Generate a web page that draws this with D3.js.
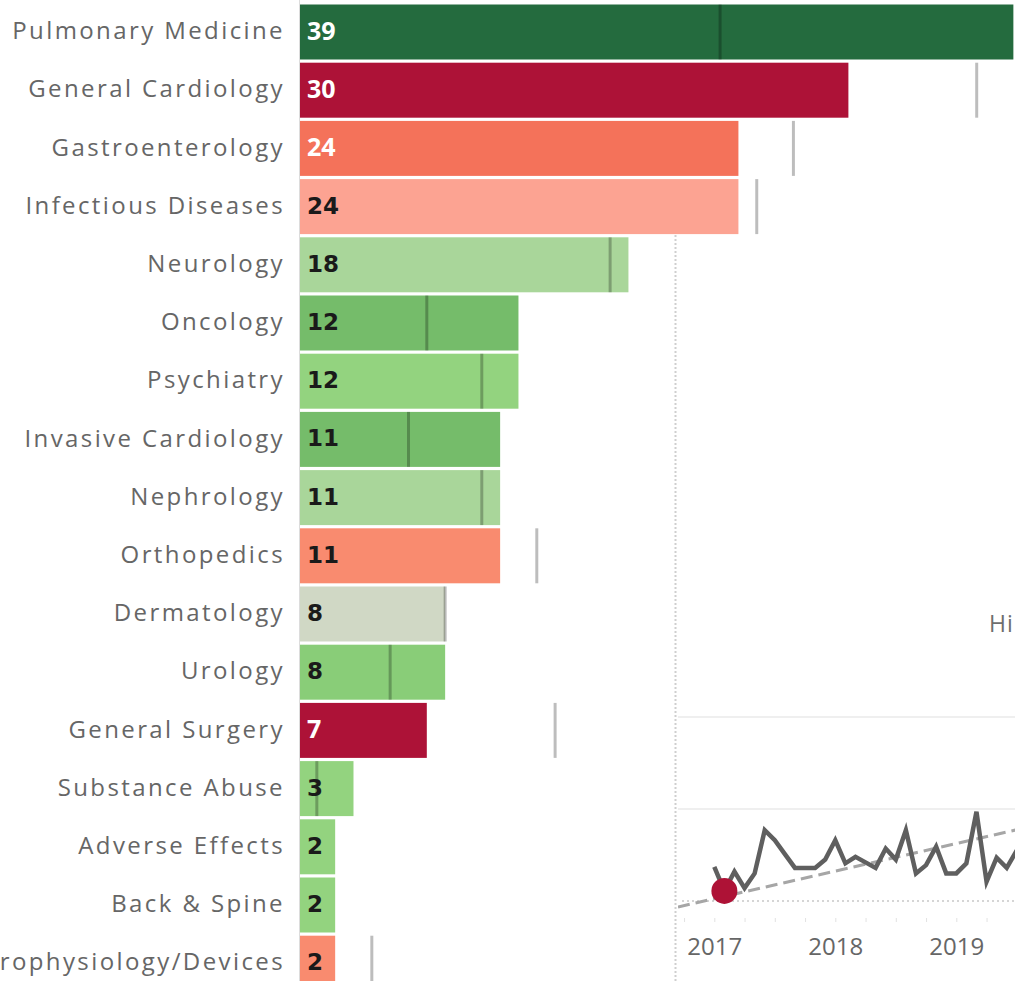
<!DOCTYPE html>
<html>
<head>
<meta charset="utf-8">
<script src="https://cdn.jsdelivr.net/npm/d3@7"></script>
<style>
  html, body { margin: 0; padding: 0; background: #fff; overflow: hidden; }
  svg { display: block; }
</style>
</head>
<body>
<svg id="chart" width="1015" height="981"></svg>
<script>
// ---------- data ----------
const categories = ["Pulmonary Medicine","General Cardiology","Gastroenterology","Infectious Diseases","Neurology","Oncology","Psychiatry","Invasive Cardiology","Nephrology","Orthopedics","Dermatology","Urology","General Surgery","Substance Abuse","Adverse Effects","Back & Spine","Electrophysiology/Devices"];
const currentValues = [39,30,24,24,18,12,12,11,11,11,8,8,7,3,2,2,2];
const priorValues = [23,37,27,25,17,7,10,6,10,13,8,5,14,1,null,null,4];
const barColors = ["#246b3e","#ad1237","#f4725a","#fca392","#a9d69a","#75bc6a","#93d37f","#75bc6a","#a9d69a","#f98b6f","#d0d8c5","#89cd78","#ad1237","#93d37f","#93d37f","#93d37f","#f98b6f"];
const labelColors = ["#ffffff","#ffffff","#ffffff","#1a1a1a","#1a1a1a","#1a1a1a","#1a1a1a","#1a1a1a","#1a1a1a","#1a1a1a","#1a1a1a","#1a1a1a","#ffffff","#1a1a1a","#1a1a1a","#1a1a1a","#1a1a1a"];

// monthly series starting Jan 2017
const monthIndex = [0,1,2,3,4,5,6,7,8,9,10,11,12,13,14,15,16,17,18,19,20,21,22,23,24,25,26,27,28,29,30];
const monthlyValues = [3.7,1.1,3.2,1.4,3.0,7.7,6.6,5.1,3.6,3.6,3.6,4.5,6.6,4.1,4.8,4.2,3.6,5.7,4.5,7.7,3.0,3.9,5.9,3.0,3.0,4.1,9.7,2.1,4.7,3.6,5.5];
const highlightMonth = 1;
const trendMonths = [-3.6, 30];
const trendValues = [-0.65, 7.75];
const yearTicks = [2017, 2018, 2019];
const gridValues = [10, 20];
const sideText = "Hi";

// ---------- layout ----------
const svg = d3.select("#chart");
const W = 1015, H = 981;

const y = d3.scaleBand().domain(categories).range([2.9, 992.3]).paddingInner(0.055).paddingOuter(0.0275);
const x = d3.scaleLinear().domain([0, 40]).range([298.5, 298.5 + 40 * 18.33]);
const x0 = 300;

const rows = categories.map((c, i) => ({c, v: currentValues[i], p: priorValues[i], col: barColors[i], lc: labelColors[i]}));

// axis line
svg.append("line").attr("x1", 299.5).attr("x2", 299.5).attr("y1", 0).attr("y2", H)
  .attr("stroke", "#dcdcdc").attr("stroke-width", 1);

// bars
svg.append("g").selectAll("rect").data(rows).join("rect")
  .attr("x", x0).attr("y", d => y(d.c))
  .attr("width", d => x(d.v) - x0).attr("height", y.bandwidth())
  .attr("fill", d => d.col);

// reference lines (prior period)
svg.append("g").selectAll("line").data(rows.filter(d => d.p != null)).join("line")
  .attr("x1", d => x(d.p)).attr("x2", d => x(d.p))
  .attr("y1", d => y(d.c)).attr("y2", d => y(d.c) + y.bandwidth())
  .attr("stroke", "rgba(0,0,0,0.26)").attr("stroke-width", 3);

// value labels
svg.append("g").selectAll("text").data(rows).join("text")
  .attr("x", 307).attr("y", d => y(d.c) + y.bandwidth() / 2)
  .attr("dy", "0.3em")
  .attr("fill", d => d.lc)
  .attr("font-family", d => d.lc === "#ffffff" ? "'Liberation Sans Narrow','Open Sans',sans-serif" : "'DejaVu Sans',sans-serif")
  .attr("font-weight", "bold")
  .attr("font-size", d => d.lc === "#ffffff" ? "25px" : "23px")
  .text(d => d.v);

// category labels
svg.append("g").selectAll("text").data(rows).join("text")
  .attr("x", 285).attr("y", d => y(d.c) + y.bandwidth() / 2)
  .attr("dy", "0.3em").attr("text-anchor", "end")
  .attr("fill", "#666666")
  .attr("font-family", "'Open Sans',sans-serif")
  .attr("font-size", "24px")
  .attr("letter-spacing", "2.4px")
  .text(d => d.c);

// ---------- right panel ----------
svg.append("line").attr("x1", 675.5).attr("x2", 675.5).attr("y1", 235).attr("y2", H)
  .attr("stroke", "#cfcfcf").attr("stroke-width", 2).attr("stroke-dasharray", "2,2");

svg.append("text").attr("x", 989).attr("y", 624).attr("dy", "0.36em")
  .attr("fill", "#6e6e6e").attr("font-family", "'Open Sans',sans-serif").attr("font-size", "23px")
  .attr("letter-spacing", "1px")
  .text(sideText);

// line chart
const t0 = 2016.7, t1 = 2019.55;
const xt = d3.scaleLinear().domain([t0, t1]).range([678, 678 + (t1 - t0) * 121]);
const yv = d3.scaleLinear().domain([0, 20]).range([901, 717]);
const mToYear = m => 2017 + m / 12;

const lc = svg.append("g");
lc.append("defs").append("clipPath").attr("id", "clipLC")
  .append("rect").attr("x", 678).attr("y", 700).attr("width", W - 678).attr("height", 230);

lc.selectAll("line.grid").data(gridValues).join("line").attr("class", "grid")
  .attr("x1", 678).attr("x2", W).attr("y1", d => yv(d)).attr("y2", d => yv(d))
  .attr("stroke", "#efefef").attr("stroke-width", 2);

lc.append("line").attr("x1", 682).attr("x2", W).attr("y1", yv(0)).attr("y2", yv(0))
  .attr("stroke", "#c8c8c8").attr("stroke-width", 1.5).attr("stroke-dasharray", "2,3");

// axis with quarterly ticks
const quarterTicks = d3.range(2016.75, 2019.6, 0.25);
const xAxis = d3.axisBottom(xt).tickValues(quarterTicks).tickSize(4).tickSizeOuter(0)
  .tickFormat(d => yearTicks.includes(Math.round(d * 100) / 100) ? String(d) : "");
const ax = svg.append("g").attr("transform", "translate(0,918)").call(xAxis);
ax.select(".domain").remove();
ax.selectAll(".tick line").attr("stroke", "#e2e2e2");
ax.selectAll(".tick text").attr("fill", "#666666").attr("font-family", "'Open Sans',sans-serif")
  .attr("font-size", "24px").attr("y", 20);

const plot = lc.append("g").attr("clip-path", "url(#clipLC)");

plot.append("path")
  .datum(trendMonths.map((m, i) => [m, trendValues[i]]))
  .attr("d", d3.line().x(d => xt(mToYear(d[0]))).y(d => yv(d[1])))
  .attr("fill", "none").attr("stroke", "#a6a6a6").attr("stroke-width", 3).attr("stroke-dasharray", "12,6");

plot.append("path")
  .datum(monthIndex.map((m, i) => [m, monthlyValues[i]]))
  .attr("d", d3.line().x(d => xt(mToYear(d[0]))).y(d => yv(d[1])))
  .attr("fill", "none").attr("stroke", "#5f5f5f").attr("stroke-width", 4.5).attr("stroke-linejoin", "miter");

plot.append("circle")
  .attr("cx", xt(mToYear(monthIndex[highlightMonth])))
  .attr("cy", yv(monthlyValues[highlightMonth]))
  .attr("r", 13).attr("fill", "#ae1236");
</script>
</body>
</html>
